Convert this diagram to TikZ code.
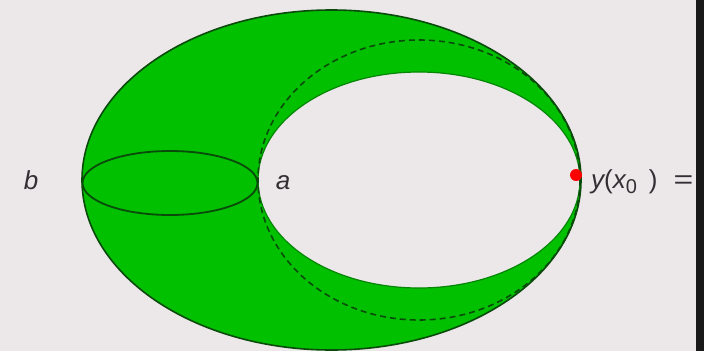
\documentclass[tikz,border=0pt]{standalone}
\usepackage{fontspec}
\setmainfont{Liberation Sans}
\definecolor{bg}{HTML}{ECE8EA}
\definecolor{grn}{HTML}{00C000}
\definecolor{txt}{HTML}{333035}
\definecolor{edge}{HTML}{0A4A0A}
\begin{document}
\begin{tikzpicture}[x=1pt,y=-1pt,
  lbl/.style={text=txt,font=\fontsize{26}{28}\selectfont\itshape,inner sep=0pt},
  outl/.style={draw=edge,line width=1.8pt}]
\fill[bg] (0,0) rectangle (704,351);
\useasboundingbox (0,0) rectangle (704,351);
% outer green region
\fill[grn,even odd rule] (331.5,180) ellipse [x radius=249.5,y radius=170]
  (419,180) ellipse [x radius=161,y radius=108];
\draw[outl,line width=1.6pt] (331.5,180) ellipse [x radius=249.5,y radius=170];
\draw[edge!50!grn,line width=1.2pt] (419,180) ellipse [x radius=161,y radius=108];
% dashed ellipse
\draw[edge,line width=1.6pt,dash pattern=on 6pt off 4pt] (419,180) ellipse [x radius=161,y radius=140];
% small ellipse
\draw[outl] (170,183) ellipse [x radius=87.5,y radius=32];
% labels
\node[lbl] (b) at (31,180) {b};
\node[lbl] (a) at (283,183) {a};
\node[lbl,anchor=base west] (y) at (591,188) {y\upshape(\itshape x\raisebox{-5pt}{\upshape\fontsize{20}{20}\selectfont 0}\hspace{12pt}\upshape)\hspace{16pt}\scalebox{1.3}[1]{=}};
% red point
\fill[red] (576,175) circle (6);
% right black bar
\fill[black!90] (696,0) rectangle (704,351);
\end{tikzpicture}
\end{document}
